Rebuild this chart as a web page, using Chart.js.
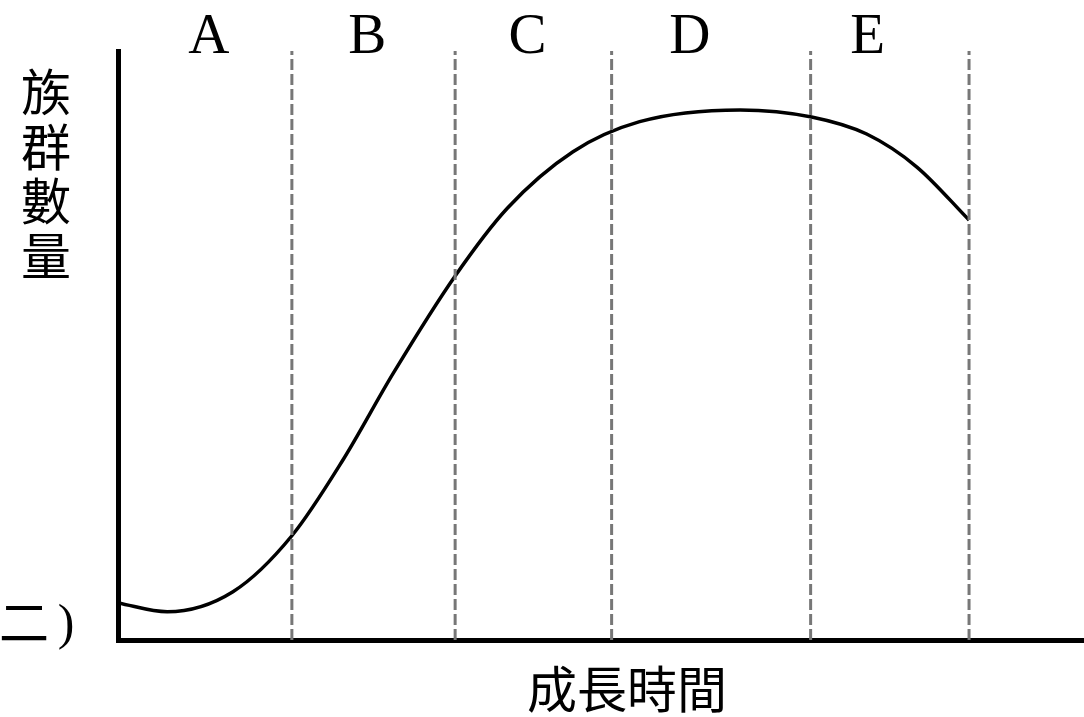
<!DOCTYPE html>
<html>
<head>
<meta charset="utf-8">
<script src="https://cdn.jsdelivr.net/npm/chart.js@4"></script>
<style>
    html, body { margin: 0; padding: 0; background: #fff; }
    canvas { display: block; }
</style>
</head>
<body>
<canvas id="myChart" width="1084" height="717"></canvas>
<script>
// growth time (0-100) vs population size (0-100)
const timeValues = [0, 5.1, 11.9, 18.0, 23.3, 28.5, 34.9, 40.3, 47.1, 54.0, 64.4, 71.8, 77.5, 82.7, 88.1];
const populationValues = [6.3, 4.8, 8.2, 17.7, 30.6, 45.3, 61.8, 73.3, 82.9, 88.0, 90.0, 88.8, 85.9, 80.3, 71.3];

// phase boundaries and labels
const phaseBoundaries = [18.0, 34.9, 51.1, 71.7, 88.1];
const phaseLabels = ['A', 'B', 'C', 'D', 'E'];
const phaseLabelPositions = [9.4, 25.8, 42.4, 59.2, 77.6];

const yTitle = '族群數量';
const xTitle = '成長時間';
const cutText = ['二', ')'];

const cjkFont = '"Noto Sans CJK TC", "Noto Sans CJK SC", sans-serif';

const textPlugin = {
    id: 'texts',
    afterDraw(chart) {
        const ctx = chart.ctx;
        const x = chart.scales.x;
        ctx.save();
        ctx.fillStyle = '#000';

        // phase letters above the plot
        ctx.font = '57px "Liberation Serif", "DejaVu Serif", serif';
        ctx.textAlign = 'center';
        ctx.textBaseline = 'alphabetic';
        phaseLabels.forEach((label, i) => {
            ctx.fillText(label, x.getPixelForValue(phaseLabelPositions[i]), 53);
        });

        // vertical y title, one character per line
        ctx.font = '50px ' + cjkFont;
        ctx.textBaseline = 'middle';
        yTitle.split('').forEach((ch, i) => {
            ctx.fillText(ch, 46, 92 + i * 54.5);
        });

        // x title
        ctx.fillText(xTitle, 627, 689);

        // clipped fragment at bottom left
        ctx.fillText(cutText[0], 24, 622);
        ctx.font = '50px "Liberation Serif", serif';
        ctx.fillText(cutText[1], 66, 626);
        ctx.restore();
    }
};

const boundaryDatasets = phaseBoundaries.map((b) => ({
    data: [{x: b, y: 0}, {x: b, y: 100}],
    borderColor: '#777777',
    borderWidth: 3,
    borderDash: [11, 4],
    pointRadius: 0,
    tension: 0
}));

const config = {
    type: 'line',
    data: {
        datasets: [
            ...boundaryDatasets,
            {
                data: timeValues.map((t, i) => ({x: t, y: populationValues[i]})),
                borderColor: '#000000',
                borderWidth: 3.5,
                pointRadius: 0,
                cubicInterpolationMode: 'monotone'
            }
        ]
    },
    options: {
        responsive: false,
        animation: false,
        layout: {
            padding: {left: 118, top: 51, right: 0, bottom: 77}
        },
        scales: {
            x: {
                type: 'linear',
                min: 0,
                max: 100,
                grid: {display: false, drawTicks: false},
                ticks: {display: false},
                border: {color: '#000', width: 5}
            },
            y: {
                min: 0,
                max: 100,
                grid: {display: false, drawTicks: false},
                ticks: {display: false},
                border: {color: '#000', width: 5}
            }
        },
        plugins: {
            legend: {display: false},
            tooltip: {enabled: false}
        }
    },
    plugins: [textPlugin]
};

new Chart(document.getElementById('myChart'), config);
</script>
</body>
</html>
